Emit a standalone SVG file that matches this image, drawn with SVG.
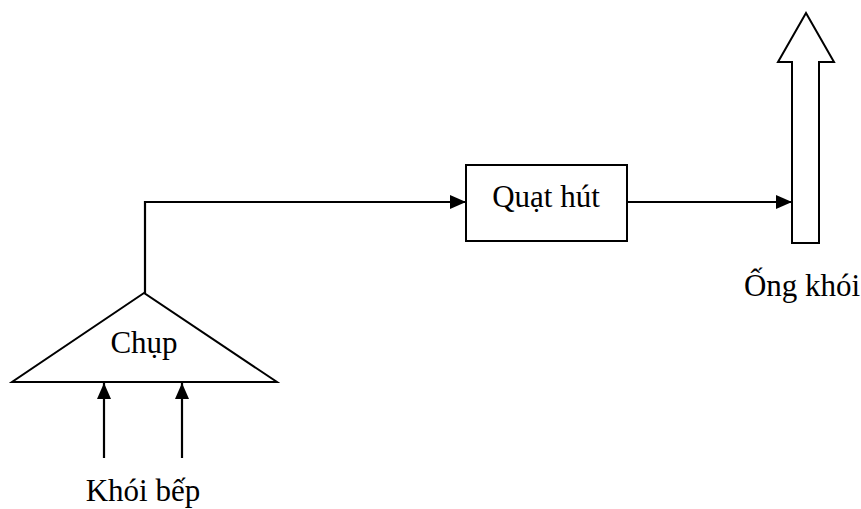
<svg xmlns="http://www.w3.org/2000/svg" width="861" height="509" viewBox="0 0 861 509">
  <defs>
    <marker id="tip" markerWidth="16" markerHeight="14" refX="16" refY="7" orient="auto" markerUnits="userSpaceOnUse">
      <path d="M0,0 L16,7 L0,14 Z" fill="#000"/>
    </marker>
  </defs>
  <style>
    .shape { fill: #fff; stroke: #000; stroke-width: 2; }
    .line { fill: none; stroke: #000; stroke-width: 2.2; }
    .lbl { font-family: "Liberation Serif", "Times New Roman", serif; font-size: 31px; fill: #000; text-anchor: middle; }
  </style>
  <rect width="861" height="509" fill="#fff"/>

  <g id="chup">
    <polygon class="shape" points="144,293 12,382 277,382"/>
    <text class="lbl" x="144" y="353">Chụp</text>
  </g>

  <g id="quat-hut">
    <rect class="shape" x="466" y="165" width="161" height="76"/>
    <text class="lbl" x="546" y="207">Quạt hút</text>
  </g>

  <g id="ong-khoi">
    <polygon class="shape" points="806,13 834,62 819,62 819,243 792,243 792,62 778,62"/>
    <text class="lbl" x="802" y="296">Ống khói</text>
  </g>

  <g id="khoi-bep">
    <text class="lbl" x="143" y="501">Khói bếp</text>
  </g>

  <g id="connectors">
    <path class="line" d="M145,293 V202 H466" marker-end="url(#tip)"/>
    <path class="line" d="M627,202 H792" marker-end="url(#tip)"/>
    <path class="line" d="M104,458 V383" marker-end="url(#tip)"/>
    <path class="line" d="M182,458 V383" marker-end="url(#tip)"/>
  </g>
</svg>
